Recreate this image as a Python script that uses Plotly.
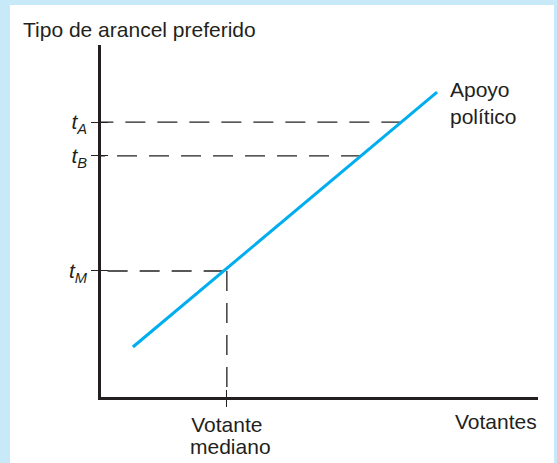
"""
Voto mediano: apoyo político y tipo de arancel preferido.
"""

import numpy as np
import plotly.graph_objects as go

# --- datos (unidades arbitrarias 0-10) ---
support_x = [0.73, 7.69]          # recta "Apoyo político"
support_y = [1.42, 8.66]
tariff_names = ["M", "B", "A"]
tariff_levels = [3.58, 6.85, 7.81]  # t_M, t_B, t_A
median_voter_x = 2.88

INK = "#231f20"
CYAN = "#00aeef"
FRAME = "#c8e9f8"
FONT = "Liberation Sans, Arial, sans-serif"

W, H = 557, 463
L, R, T, B = 101, 19, 45, 66
PW, PH = W - L - R, H - T - B


def px_x(px):
    return (px - L) / PW


def px_y(py):
    return (H - B - py) / PH


fig = go.Figure()

# dashed guides from the support line back to the axis
for level in tariff_levels:
    x_hit = np.interp(level, support_y, support_x)
    fig.add_trace(go.Scatter(
        x=[x_hit, 0], y=[level, level], mode="lines",
        line={"color": INK, "width": 1.3, "dash": "20px,12px"},
        hoverinfo="skip", showlegend=False,
    ))

t_m = tariff_levels[0]
fig.add_trace(go.Scatter(
    x=[median_voter_x, median_voter_x], y=[t_m, 0], mode="lines",
    line={"color": INK, "width": 1.3, "dash": "20px,12px"},
    hoverinfo="skip", showlegend=False,
))

fig.add_trace(go.Scatter(
    x=support_x, y=support_y, mode="lines",
    line={"color": CYAN, "width": 3},
    hoverinfo="skip", showlegend=False,
))

# dummy trace so the overlay axes (inner tick halves) get drawn
fig.add_trace(go.Scatter(x=[None], y=[None], xaxis="x2", yaxis="y2",
                         showlegend=False, hoverinfo="skip"))

fig.add_annotation(xref="paper", yref="paper", x=px_x(21), y=px_y(30),
                   text="Tipo de arancel preferido", showarrow=False,
                   xanchor="left", yanchor="middle")
fig.add_annotation(xref="paper", yref="paper", x=px_x(539), y=px_y(421),
                   text="Votantes", showarrow=False,
                   xanchor="right", yanchor="middle")
fig.add_annotation(x=7.94, y=8.34, text="Apoyo<br>político", showarrow=False,
                   xanchor="left", yanchor="middle", align="left")
# second line of the tick label, set tighter than plotly's <br> leading
fig.add_annotation(x=median_voter_x + 0.08, yref="paper", y=px_y(446),
                   text="mediano", showarrow=False,
                   xanchor="center", yanchor="middle")

# white card on the light blue frame
fig.add_shape(type="rect", xref="paper", yref="paper", layer="below",
              x0=px_x(10), x1=px_x(554), y0=px_y(470), y1=px_y(5),
              fillcolor="white", line={"width": 0})

y_ticktext = [f"<i>t</i><sub><i>{n}</i></sub>" for n in tariff_names]

fig.update_layout(
    width=W, height=H,
    margin={"l": L, "r": R, "t": T, "b": B, "autoexpand": False},
    paper_bgcolor=FRAME,
    plot_bgcolor="rgba(0,0,0,0)",
    font={"family": FONT, "size": 21, "color": INK},
    xaxis={
        "range": [0, 10], "showgrid": False, "zeroline": False,
        "automargin": False,
        "showline": True, "linecolor": INK, "linewidth": 2.5,
        "ticks": "outside", "ticklen": 7, "tickwidth": 1.3, "tickcolor": INK,
        "tickvals": [median_voter_x], "ticktext": ["Votante"],
    },
    yaxis={
        "range": [0, 10], "showgrid": False, "zeroline": False,
        "automargin": False,
        "showline": True, "linecolor": INK, "linewidth": 2.5,
        "ticks": "outside", "ticklen": 7, "tickwidth": 1.3, "tickcolor": INK,
        "tickvals": tariff_levels, "ticktext": y_ticktext,
    },
    xaxis2={
        "overlaying": "x", "range": [0, 10], "showgrid": False,
        "zeroline": False, "showline": False, "side": "bottom",
        "ticks": "inside", "ticklen": 7, "tickwidth": 1.3, "tickcolor": INK,
        "tickvals": [median_voter_x], "showticklabels": False,
    },
    yaxis2={
        "overlaying": "y", "range": [0, 10], "showgrid": False,
        "zeroline": False, "showline": False, "side": "left",
        "ticks": "inside", "ticklen": 7, "tickwidth": 1.3, "tickcolor": INK,
        "tickvals": tariff_levels, "showticklabels": False,
    },
)

# the page body has a default 8px margin; drop it so the figure fills the window
fig.write_html(
    "out.html",
    config={"displayModeBar": False},
    post_script="document.body.style.margin = '0';",
)
